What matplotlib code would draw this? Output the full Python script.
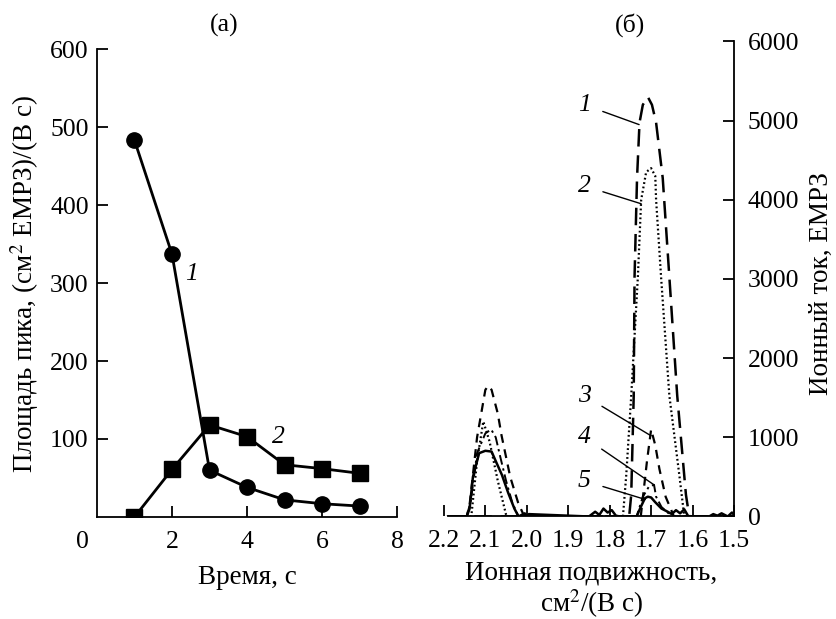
import matplotlib
matplotlib.use("Agg")
import matplotlib.pyplot as plt
from matplotlib.transforms import ScaledTranslation

plt.rcParams['font.family'] = ['Liberation Serif', 'DejaVu Serif']
plt.rcParams['mathtext.fontset'] = 'stix'

# (a) peak area vs time
t = [1, 2, 3, 4, 5, 6, 7]
area1 = [483, 337, 60, 38, 22, 17, 14]
area2 = [0, 61, 118, 103, 67, 62, 56]

# (б) ion mobility spectra, curves 1-5
k1 = [2.19, 1.80, 1.77, 1.753, 1.748, 1.742, 1.740, 1.734, 1.728, 1.72, 1.708,
      1.698, 1.688, 1.672, 1.656, 1.637, 1.616, 1.608, 1.50]
i1 = [0, 0, 0, 0, 275, 1525, 3025, 4275, 4975, 5200, 5300,
      5200, 4975, 4275, 3025, 1525, 275, 0, 0]
k2 = [2.19, 2.14, 2.134, 2.12, 2.105, 2.09, 2.07, 2.049, 1.80, 1.768, 1.760,
      1.748, 1.732, 1.724, 1.712, 1.700, 1.690, 1.688, 1.676, 1.656, 1.632, 1.620, 1.50]
i2 = [0, 0, 0, 700, 1200, 950, 450, 0, 0, 0, 525,
      1525, 3025, 4000, 4350, 4400, 4300, 4000, 3025, 1525, 525, 0, 0]
k3 = [2.19, 2.145, 2.138, 2.12, 2.10, 2.093, 2.085, 2.07, 2.061, 2.04, 2.021, 2.006,
      1.99, 1.75, 1.725, 1.71, 1.70, 1.69, 1.68, 1.665, 1.645, 1.50]
i3 = [0, 0, 150, 1000, 1600, 1650, 1600, 1300, 1025, 500, 175, 0,
      0, 0, 0, 700, 1100, 900, 600, 250, 0, 0]
k4 = [2.19, 2.145, 2.135, 2.12, 2.10, 2.086, 2.075, 2.065, 2.05, 2.035, 2.02,
      1.74, 1.735, 1.72, 1.705, 1.693, 1.688, 1.675, 1.66, 1.65, 1.50]
i4 = [0, 0, 200, 800, 1050, 1100, 1000, 775, 450, 175, 0,
      0, 0, 250, 380, 400, 250, 120, 50, 0, 0]
k5 = [2.19, 2.145, 2.138, 2.13, 2.115, 2.10, 2.085, 2.075, 2.06, 2.045, 2.03, 2.02,
      2.005, 2.0, 1.995, 1.85, 1.835, 1.825, 1.815, 1.805, 1.795, 1.785, 1.775,
      1.735, 1.725, 1.715, 1.708, 1.70, 1.69, 1.675, 1.66, 1.65, 1.64, 1.63, 1.62,
      1.61, 1.56, 1.55, 1.54, 1.53, 1.515, 1.505, 1.50]
i5 = [0, 0, 100, 500, 800, 830, 820, 700, 525, 300, 100, 0,
      40, 0, 30, 0, 60, 20, 100, 50, 80, 10, 0,
      0, 120, 230, 250, 240, 180, 100, 60, 30, 80, 40, 90,
      0, 0, 30, 10, 40, 0, 50, 20]

fig = plt.figure(figsize=(8.36, 6.19), dpi=100)
fs = 18.5
lfs = 19.5

# ---- panel (a)
ax = fig.add_axes([0.116, 0.1648, 0.359, 0.756])
ax.plot(t, area1, '-', color='black', lw=2, marker='o', ms=11)
ax.plot(t, area2, '-', color='black', lw=2, marker='s', ms=11)
ax.set_xlim(0, 8)
ax.set_ylim(0, 600)
ax.set_xticks([0, 2, 4, 6, 8])
ax.set_yticks([100, 200, 300, 400, 500, 600])
for s in ['top', 'right']:
    ax.spines[s].set_visible(False)
for s in ['left', 'bottom']:
    ax.spines[s].set_linewidth(1.3)
ax.spines['bottom'].set_zorder(0)
ax.tick_params(direction='in', length=8, width=1.3, labelsize=fs)
ax.tick_params(axis='x', pad=10)
ax.tick_params(axis='y', pad=6)
zero = ax.xaxis.get_major_ticks()[0]
zero.tick1line.set_visible(False)
zero.label1.set_transform(zero.label1.get_transform() +
                          ScaledTranslation(-0.15, 0, fig.dpi_scale_trans))
ax.set_xlabel('Время, с', fontsize=lfs, va='center')
ax.xaxis.set_label_coords(0.5, -0.130)
ax.set_ylabel('Площадь пика, (см$^2$ ЕМРЗ)/(В с)', fontsize=lfs, va='center')
ax.yaxis.set_label_coords(-0.24, 0.498)
ax.text(0.423, 1.051, '(a)', transform=ax.transAxes, fontsize=fs,
        ha='center', va='center')
ax.text(2.53, 312, '1', fontsize=fs, style='italic', ha='center', va='center')
ax.text(4.83, 103, '2', fontsize=fs, style='italic', ha='center', va='center')

# ---- panel (б)
bx = fig.add_axes([0.531, 0.1656, 0.347, 0.7674])
bx.plot(k1, i1, color='black', lw=1.8, dashes=(7, 3.5))
bx.plot(k2, i2, color='black', lw=1.6, linestyle=(0, (0.8, 1.2)))
bx.plot(k3, i3, color='black', lw=1.6, dashes=(4, 3))
bx.plot(k4, i4, color='black', lw=1.4, dashes=(5, 2, 1.2, 2))
bx.plot(k5, i5, color='black', lw=1.8)
bx.set_xlim(2.2, 1.5)
bx.set_ylim(0, 6000)
bx.set_xticks([2.2, 2.1, 2.0, 1.9, 1.8, 1.7, 1.6, 1.5])
bx.set_xticklabels(['2.2', '2.1', '2.0', '1.9', '1.8', '1.7', '1.6', '1.5'])
bx.set_yticks([0, 1000, 2000, 3000, 4000, 5000, 6000])
for s in ['top', 'left']:
    bx.spines[s].set_visible(False)
for s in ['right', 'bottom']:
    bx.spines[s].set_linewidth(1.3)
bx.spines['bottom'].set_bounds(2.19, 1.5)
bx.yaxis.tick_right()
bx.yaxis.set_label_position('right')
bx.tick_params(direction='in', length=8, width=1.3, labelsize=fs)
bx.tick_params(axis='x', pad=10)
bx.tick_params(axis='y', pad=10)
bx.set_ylabel('Ионный ток, ЕМРЗ', fontsize=lfs, va='center')
bx.yaxis.set_label_coords(1.300, 0.49)
bx.set_xlabel('Ионная подвижность,\nсм$^2$/(В с)', fontsize=lfs,
              linespacing=1.08, va='center')
bx.xaxis.set_label_coords(0.508, -0.156)
bx.text(0.641, 1.034, '(б)', transform=bx.transAxes, fontsize=fs,
        ha='center', va='center')

labels = ['1', '2', '3', '4', '5']
lab_y = [5200, 4175, 1525, 1000, 450]
tip_x = [1.729, 1.724, 1.702, 1.693, 1.714]
tip_y = [4950, 3950, 1025, 400, 215]
for lab, ly, tx, ty in zip(labels, lab_y, tip_x, tip_y):
    bx.annotate(lab, xy=(tx, ty), xytext=(1.861, ly), fontsize=fs,
                style='italic', ha='center', va='center',
                arrowprops=dict(arrowstyle='-', color='black', lw=1,
                                shrinkA=7, shrinkB=0))

fig.savefig('out.png', dpi=100)
